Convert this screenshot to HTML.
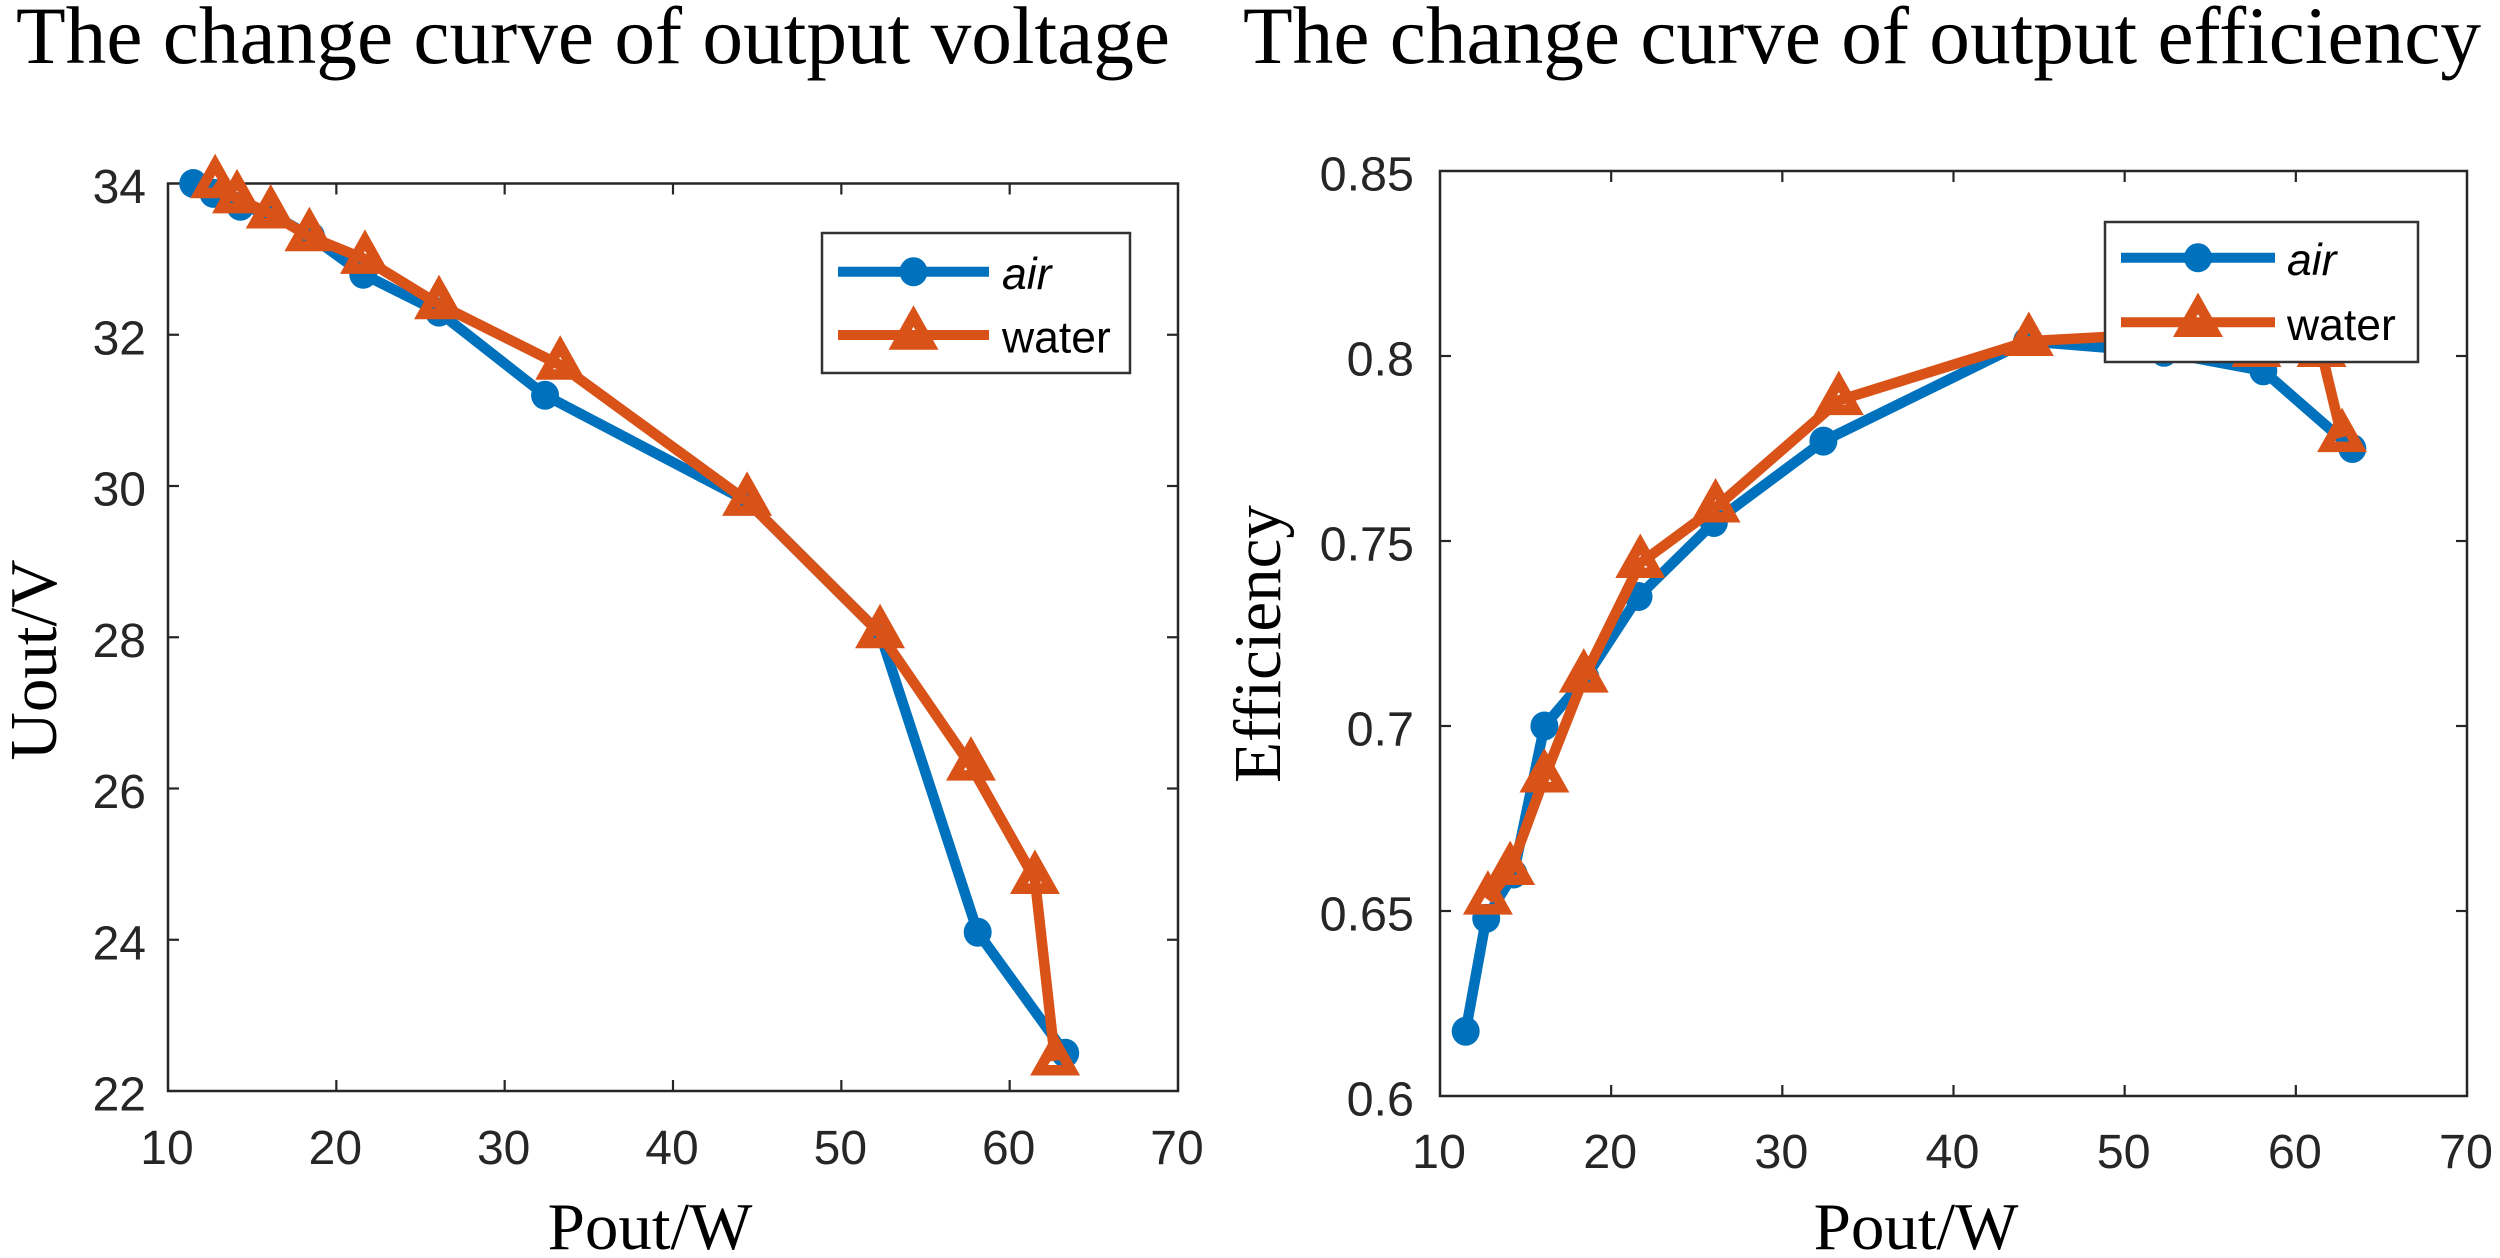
<!DOCTYPE html>
<html lang="en">
<head>
<meta charset="utf-8">
<title>Output voltage and efficiency curves</title>
<style>
html,body{margin:0;padding:0;background:#fff;width:2500px;height:1258px;overflow:hidden}
svg{display:block}
</style>
</head>
<body>
<svg id="figure" xmlns="http://www.w3.org/2000/svg" width="2500" height="1258" viewBox="0 0 2500 1258"></svg>
<script>
const xTickLabels = [10, 20, 30, 40, 50, 60, 70];

const voltageYTicks = [22, 24, 26, 28, 30, 32, 34];
const voltageAirX = [11.5, 12.7, 14.3, 16.1, 18.5, 21.6, 26.1, 32.4, 44.4, 52.3, 58.1, 63.3];
const voltageAirY = [34, 33.87, 33.7, 33.6, 33.3, 32.8, 32.3, 31.2, 29.8, 28.05, 24.1, 22.5];
const voltageWaterX = [12.8, 14.1, 16.1, 18.4, 21.7, 26.1, 33.3, 44.4, 52.3, 57.7, 61.5, 62.7];
const voltageWaterY = [34, 33.8, 33.6, 33.3, 33, 32.4, 31.6, 29.8, 28.05, 26.3, 24.8, 22.4];

const effYTicks = [0.6, 0.65, 0.7, 0.75, 0.8, 0.85];
const effYTickLabels = ['0.6', '0.65', '0.7', '0.75', '0.8', '0.85'];
const effAirX = [11.5, 12.7, 14.3, 16.1, 18.5, 21.6, 26, 32.4, 44.3, 52.3, 58.1, 63.3];
const effAirY = [0.6175, 0.648, 0.66, 0.7, 0.713, 0.735, 0.755, 0.777, 0.804, 0.801, 0.796, 0.775];
const effWaterX = [12.8, 14.1, 16.1, 18.4, 21.7, 26.1, 33.3, 44.4, 52.3, 57.7, 61.5, 62.7];
const effWaterY = [0.653, 0.661, 0.686, 0.713, 0.744, 0.759, 0.788, 0.804, 0.806, 0.801, 0.801, 0.778];

const BLUE = '#0072BD';
const ORANGE = '#D95319';
const INK = '#262626';
const NS = 'http://www.w3.org/2000/svg';
const svg = document.getElementById('figure');

function make(tag, attrs, parent, text) {
  const el = document.createElementNS(NS, tag);
  for (const k in attrs) el.setAttribute(k, attrs[k]);
  if (text !== undefined) el.textContent = text;
  parent.appendChild(el);
  return el;
}

function trianglePoints(cx, cy) {
  return [cx + ',' + (cy - 19), (cx + 16) + ',' + (cy + 9.5), (cx - 16) + ',' + (cy + 9.5)].join(' ');
}

function drawAirMarker(g, cx, cy) {
  const m = make('ellipse', {cx: cx, cy: cy, rx: 14, ry: 14.5, fill: BLUE}, g);
  
  
}

function drawWaterMarker(g, cx, cy) {
  const m = make('polygon', {points: trianglePoints(cx, cy), fill: 'none', stroke: ORANGE, 'stroke-width': 10.5, 'stroke-linejoin': 'miter', 'stroke-miterlimit': 10}, g);
  
  
}

function drawSeries(parent, name, xs, ys, sx, sy, color, marker) {
  const g = make('g', {}, parent);
  
  
  const pts = xs.map((v, i) => sx(v) + ',' + sy(ys[i])).join(' ');
  const line = make('polyline', {points: pts, fill: 'none', stroke: color, 'stroke-width': 10.5, 'stroke-linejoin': 'miter'}, g);
  
  
  xs.forEach((v, i) => marker(g, sx(v), sy(ys[i])));
}

function drawLegend(parent, box, lineX0, lineX1, airY, waterY, textX) {
  const g = make('g', {}, parent);
  
  
  const frame = make('rect', {x: box[0], y: box[1], width: box[2] - box[0], height: box[3] - box[1], fill: '#fff', stroke: '#333', 'stroke-width': 2.5}, g);
  
  
  const mid = (lineX0 + lineX1) / 2;

  const a = make('g', {}, g);
  
  
  make('line', {x1: lineX0, x2: lineX1, y1: airY, y2: airY, stroke: BLUE, 'stroke-width': 10}, a);
  drawAirMarker(a, mid, airY);
  make('text', {x: textX, y: airY + 17.5, 'font-family': '"Liberation Sans", sans-serif', 'font-size': 44.5, 'font-style': 'italic', fill: '#000'}, a, 'air');

  const w = make('g', {}, g);
  
  
  make('line', {x1: lineX0, x2: lineX1, y1: waterY, y2: waterY, stroke: ORANGE, 'stroke-width': 10}, w);
  drawWaterMarker(w, mid, waterY);
  make('text', {x: textX, y: waterY + 17.5, 'font-family': '"Liberation Sans", sans-serif', 'font-size': 44.5, fill: '#000'}, w, 'water');
}

function drawChart(cfg) {
  const g = make('g', {}, svg);
  
  

  const sx = v => cfg.left + (v - cfg.xMin) / (cfg.xMax - cfg.xMin) * (cfg.right - cfg.left);
  const sy = v => cfg.bottom - (v - cfg.yMin) / (cfg.yMax - cfg.yMin) * (cfg.bottom - cfg.top);

  const title = make('text', {x: cfg.titleX, y: 63, 'font-family': '"Liberation Serif", serif', 'font-size': 81.3, fill: '#000', textLength: cfg.titleW, lengthAdjust: 'spacingAndGlyphs'}, g, cfg.title);
  
  

  const plot = make('rect', {x: cfg.left, y: cfg.top, width: cfg.right - cfg.left, height: cfg.bottom - cfg.top, fill: '#fff', stroke: INK, 'stroke-width': 2.5}, g);
  
  

  const xAxis = make('g', {}, g);
  
  
  xTickLabels.forEach(v => {
    const x = sx(v);
    if (v !== cfg.xMin && v !== cfg.xMax) {
      make('line', {x1: x, x2: x, y1: cfg.bottom, y2: cfg.bottom - 11, stroke: INK, 'stroke-width': 2.2}, xAxis);
      make('line', {x1: x, x2: x, y1: cfg.top, y2: cfg.top + 11, stroke: INK, 'stroke-width': 2.2}, xAxis);
    }
    const t = make('text', {x: x - 1, y: cfg.xLabelY, 'text-anchor': 'middle', 'font-family': '"Liberation Sans", sans-serif', 'font-size': cfg.tickSize, fill: INK}, xAxis, String(v));
    
    
  });

  const yAxis = make('g', {}, g);
  
  
  cfg.yTicks.forEach((v, i) => {
    const y = sy(v);
    if (v !== cfg.yMin && v !== cfg.yMax) {
      make('line', {x1: cfg.right, x2: cfg.right - 11, y1: y, y2: y, stroke: INK, 'stroke-width': 2.2}, yAxis);
      make('line', {x1: cfg.left, x2: cfg.left + 11, y1: y, y2: y, stroke: INK, 'stroke-width': 2.2}, yAxis);
    }
    const t = make('text', {x: cfg.yLabelX, y: y + 19.5, 'text-anchor': 'end', 'font-family': '"Liberation Sans", sans-serif', 'font-size': cfg.tickSize, fill: INK}, yAxis, cfg.yLabels[i]);
    
    
  });

  const xTitle = make('text', {x: cfg.xTitleX, y: 1249, 'text-anchor': 'middle', 'font-family': '"Liberation Serif", serif', 'font-size': 67, fill: '#000'}, g, 'Pout/W');
  
  

  const yTitle = make('text', {x: 0, y: 0, transform: 'translate(' + cfg.yTitleX + ',' + cfg.yTitleY + ') rotate(-90)', 'text-anchor': 'middle', 'font-family': '"Liberation Serif", serif', 'font-size': 67, fill: '#000'}, g, cfg.yTitle);
  
  

  drawSeries(g, 'series-air', cfg.airX, cfg.airY, sx, sy, BLUE, drawAirMarker);
  drawSeries(g, 'series-water', cfg.waterX, cfg.waterY, sx, sy, ORANGE, drawWaterMarker);

  const l = cfg.legend;
  drawLegend(g, l.box, l.x0, l.x1, l.airY, l.waterY, l.textX);
}

drawChart({
  name: 'voltage-chart',
  title: 'The change curve of output voltage',
  titleX: 16, titleW: 1154,
  left: 168, right: 1178, top: 183.5, bottom: 1091,
  xMin: 10, xMax: 70, yMin: 22, yMax: 34,
  yTicks: voltageYTicks,
  yLabels: voltageYTicks.map(String),
  tickSize: 48, xLabelY: 1164, yLabelX: 146,
  xTitleX: 650, yTitle: 'Uout/V', yTitleX: 56, yTitleY: 660,
  airX: voltageAirX, airY: voltageAirY, waterX: voltageWaterX, waterY: voltageWaterY,
  legend: {box: [822, 233, 1130, 373], x0: 838, x1: 989, airY: 271.7, waterY: 335, textX: 1002}
});

drawChart({
  name: 'efficiency-chart',
  title: 'The change curve of output efficiency',
  titleX: 1243, titleW: 1238,
  left: 1440, right: 2467, top: 171, bottom: 1096,
  xMin: 10, xMax: 70, yMin: 0.6, yMax: 0.85,
  yTicks: effYTicks,
  yLabels: effYTickLabels,
  tickSize: 48.5, xLabelY: 1168, yLabelX: 1414,
  xTitleX: 1916, yTitle: 'Efficiency', yTitleX: 1280, yTitleY: 644,
  airX: effAirX, airY: effAirY, waterX: effWaterX, waterY: effWaterY,
  legend: {box: [2105, 222, 2418, 362], x0: 2121, x1: 2275, airY: 257.7, waterY: 322.3, textX: 2287}
});
</script>
</body>
</html>
